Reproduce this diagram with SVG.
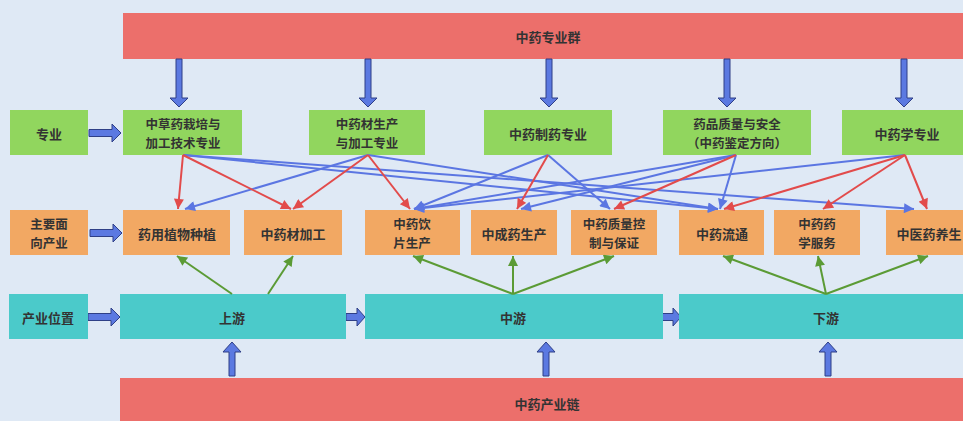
<svg xmlns="http://www.w3.org/2000/svg" width="963" height="421" viewBox="0 0 963 421">
<defs>
<style>
.t{font-family:"Noto Sans CJK SC","Liberation Sans",sans-serif;font-size:13px;font-weight:bold;fill:#333;text-anchor:middle;dominant-baseline:central}
.t2{font-size:12.5px}
.red{fill:#ec6f6b}
.grn{fill:#91d65e}
.org{fill:#f2a863}
.cyn{fill:#4bcaca}
.blk{fill:#5b79e1;stroke:#2e3f86;stroke-width:1}
.lb{stroke:#5b76e2;stroke-width:2;fill:none;marker-end:url(#mb)}
.lr{stroke:#e24b4b;stroke-width:2;fill:none;marker-end:url(#mr)}
.lg{stroke:#5b9b35;stroke-width:2;fill:none;marker-end:url(#mg)}
</style>
<marker id="mb" viewBox="0 0 10 10" refX="10" refY="5" markerWidth="6" markerHeight="5" orient="auto" markerUnits="strokeWidth"><path d="M0,0L10,5L0,10z" fill="#5b76e2"/></marker>
<marker id="mr" viewBox="0 0 10 10" refX="10" refY="5" markerWidth="6" markerHeight="5" orient="auto" markerUnits="strokeWidth"><path d="M0,0L10,5L0,10z" fill="#e24b4b"/></marker>
<marker id="mg" viewBox="0 0 10 10" refX="10" refY="5" markerWidth="6" markerHeight="5" orient="auto" markerUnits="strokeWidth"><path d="M0,0L10,5L0,10z" fill="#5b9b35"/></marker>
<path id="adown" d="M-3,0H3V39H9L0,48L-9,39H-3Z"/>
<path id="aright" d="M0,-3.5H23V-9L32,0L23,9V3.5H0Z"/>
<path id="asmall" d="M0,-3.5H11V-9L19,0L11,9V3.5H0Z"/>
<path id="aup" d="M-3,0H3V-24H9L0,-34L-9,-24H-3Z"/>
</defs>
<rect width="963" height="421" fill="#dfe9f5"/>

<g id="group-top"><rect class="red" x="123" y="13" width="850" height="46"/><text class="t" x="548" y="36">中药专业群</text></g>
<g id="group-bottom"><rect class="red" x="120" y="378" width="853" height="50"/><text class="t" x="547" y="403">中药产业链</text></g>

<g id="block-arrows">
<use href="#adown" class="blk" x="179" y="59"/>
<use href="#adown" class="blk" x="368" y="59"/>
<use href="#adown" class="blk" x="549" y="59"/>
<use href="#adown" class="blk" x="727" y="59"/>
<use href="#adown" class="blk" x="904" y="59"/>
<use href="#aright" class="blk" x="89" y="133"/>
<use href="#aright" class="blk" x="90" y="233"/>
<use href="#aright" class="blk" x="88" y="317"/>
<use href="#asmall" class="blk" x="346" y="317"/>
<use href="#asmall" class="blk" x="662" y="317"/>
<use href="#aup" class="blk" x="232" y="376"/>
<use href="#aup" class="blk" x="546" y="376"/>
<use href="#aup" class="blk" x="828" y="376"/>
</g>

<g id="n-zhuanye"><rect class="grn" x="10" y="110" width="78" height="45"/><text class="t" x="49" y="133">专业</text></g>
<g id="n-s1"><rect class="grn" x="123" y="110" width="119" height="45"/><text class="t t2" x="183" y="123.5">中草药栽培与</text><text class="t t2" x="183" y="142">加工技术专业</text></g>
<g id="n-s2"><rect class="grn" x="309" y="110" width="116" height="45"/><text class="t t2" x="367" y="123.5">中药材生产</text><text class="t t2" x="367" y="142">与加工专业</text></g>
<g id="n-s3"><rect class="grn" x="484" y="110" width="128" height="45"/><text class="t" x="548" y="133">中药制药专业</text></g>
<g id="n-s4"><rect class="grn" x="663" y="110" width="148" height="45"/><text class="t t2" x="737" y="123.5">药品质量与安全</text><text class="t t2" x="737" y="142">（中药鉴定方向）</text></g>
<g id="n-s5"><rect class="grn" x="842" y="110" width="131" height="45"/><text class="t" x="907" y="133">中药学专业</text></g>

<g id="n-chanye"><rect class="org" x="10" y="210" width="78" height="45"/><text class="t t2" x="49" y="223.5">主要面</text><text class="t t2" x="49" y="242">向产业</text></g>
<g id="n-t1"><rect class="org" x="123" y="210" width="107" height="45"/><text class="t" x="177" y="233">药用植物种植</text></g>
<g id="n-t2"><rect class="org" x="244" y="210" width="98" height="45"/><text class="t" x="293" y="233">中药材加工</text></g>
<g id="n-t3"><rect class="org" x="365" y="210" width="95" height="45"/><text class="t t2" x="412" y="223.5">中药饮</text><text class="t t2" x="412" y="242">片生产</text></g>
<g id="n-t4"><rect class="org" x="471" y="210" width="86" height="45"/><text class="t" x="514" y="233">中成药生产</text></g>
<g id="n-t5"><rect class="org" x="571" y="210" width="86" height="45"/><text class="t t2" x="614" y="223.5">中药质量控</text><text class="t t2" x="614" y="242">制与保证</text></g>
<g id="n-t6"><rect class="org" x="679" y="210" width="85" height="45"/><text class="t" x="722" y="233">中药流通</text></g>
<g id="n-t7"><rect class="org" x="774" y="210" width="86" height="45"/><text class="t t2" x="817" y="223.5">中药药</text><text class="t t2" x="817" y="242">学服务</text></g>
<g id="n-t8"><rect class="org" x="886" y="210" width="90" height="45"/><text class="t" x="929" y="233">中医药养生</text></g>

<g id="n-weizhi"><rect class="cyn" x="9" y="294" width="79" height="45"/><text class="t" x="48" y="317">产业位置</text></g>
<g id="n-up"><rect class="cyn" x="120" y="294" width="226" height="45"/><text class="t" x="232" y="317">上游</text></g>
<g id="n-mid"><rect class="cyn" x="365" y="294" width="298" height="45"/><text class="t" x="513" y="317">中游</text></g>
<g id="n-down"><rect class="cyn" x="679" y="294" width="294" height="45"/><text class="t" x="826" y="317">下游</text></g>

<g id="connectors">
<line class="lb" x1="183" y1="155" x2="718" y2="209"/>
<line class="lb" x1="183" y1="155" x2="914" y2="209"/>
<line class="lb" x1="368" y1="155" x2="185" y2="209"/>
<line class="lb" x1="368" y1="155" x2="718" y2="209"/>
<line class="lb" x1="548" y1="155" x2="414" y2="209"/>
<line class="lb" x1="548" y1="155" x2="610" y2="209"/>
<line class="lb" x1="736" y1="155" x2="414" y2="209"/>
<line class="lb" x1="736" y1="155" x2="521" y2="209"/>
<line class="lb" x1="736" y1="155" x2="720" y2="209"/>
<line class="lb" x1="905" y1="155" x2="414" y2="209"/>
<line class="lr" x1="183" y1="155" x2="178" y2="209"/>
<line class="lr" x1="183" y1="155" x2="291" y2="209"/>
<line class="lr" x1="368" y1="155" x2="293" y2="209"/>
<line class="lr" x1="368" y1="155" x2="410" y2="209"/>
<line class="lr" x1="548" y1="155" x2="517" y2="209"/>
<line class="lr" x1="736" y1="155" x2="614" y2="209"/>
<line class="lr" x1="905" y1="155" x2="724" y2="209"/>
<line class="lr" x1="905" y1="155" x2="823" y2="209"/>
<line class="lr" x1="905" y1="155" x2="927" y2="209"/>
<line class="lg" x1="232" y1="294" x2="177" y2="256"/>
<line class="lg" x1="268" y1="294" x2="293" y2="256"/>
<line class="lg" x1="513" y1="294" x2="413" y2="256"/>
<line class="lg" x1="513" y1="294" x2="513" y2="256"/>
<line class="lg" x1="513" y1="294" x2="614" y2="256"/>
<line class="lg" x1="826" y1="294" x2="723" y2="256"/>
<line class="lg" x1="826" y1="294" x2="818" y2="256"/>
<line class="lg" x1="826" y1="294" x2="928" y2="256"/>
</g>
</svg>
